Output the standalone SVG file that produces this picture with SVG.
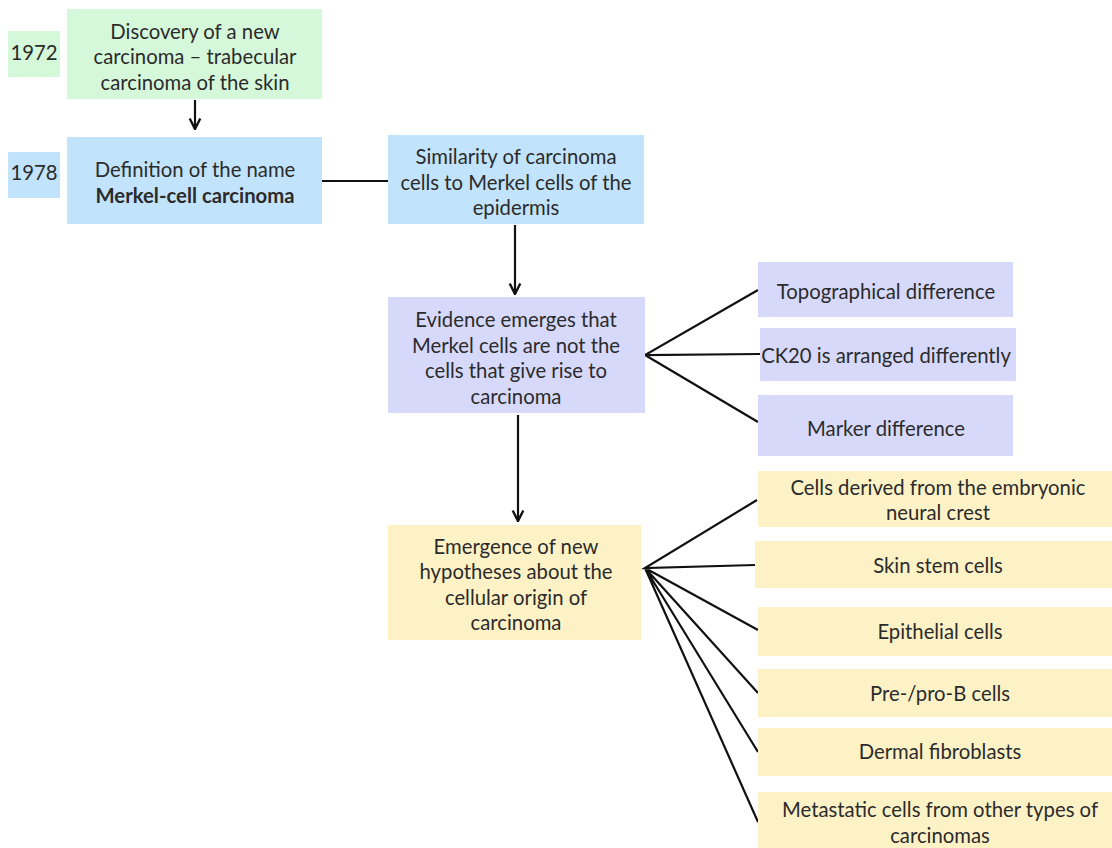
<svg xmlns="http://www.w3.org/2000/svg" width="1112" height="848" viewBox="0 0 1112 848">
<style>
text{font-family:Lato,"Open Sans",sans-serif;font-size:20.3px;fill:#2b2b2b;text-anchor:middle}
.g{fill:#d6f8da}.b{fill:#c1e3fb}.p{fill:#d7d9fb}.y{fill:#fdf2c6}
.c{stroke:#111;stroke-width:2.2;fill:none}
</style>
<defs>
<marker id="ah" viewBox="0 0 10 10" refX="9" refY="5" markerWidth="6" markerHeight="6" orient="auto"><path d="M1,1 L9,5 L1,9" fill="none" stroke="#111" stroke-width="1.8"/></marker>
</defs>
<rect width="1112" height="848" fill="#fff"/>
<g id="connectors">
<line class="c" x1="195" y1="100" x2="195" y2="129" marker-end="url(#ah)"/>
<line class="c" x1="322" y1="181" x2="388" y2="181"/>
<line class="c" x1="515" y1="225" x2="515" y2="294" marker-end="url(#ah)"/>
<line class="c" x1="518" y1="415" x2="518" y2="521" marker-end="url(#ah)"/>
<path class="c" d="M758,290 L645,355 L760,354 M645,355 L758,422"/>
<path class="c" d="M757,500 L645,568 L755,565 M645,568 L758,630 M645,568 L758,693 M645,568 L758,752 M645,568 L758,822"/>
</g>
<g id="y1972"><rect class="g" x="8" y="31" width="52" height="46"/><text x="34" y="60" font-size="15">1972</text></g>
<g id="discovery"><rect class="g" x="67" y="9" width="255" height="90"/><text x="195" y="39">Discovery of a new</text><text x="195" y="64">carcinoma – trabecular</text><text x="195" y="90">carcinoma of the skin</text></g>
<g id="y1978"><rect class="b" x="8" y="152" width="52" height="46"/><text x="34" y="180" font-size="15">1978</text></g>
<g id="definition"><rect class="b" x="67" y="137" width="255" height="87"/><text x="195" y="177">Definition of the name</text><text x="195" y="203" font-weight="bold">Merkel-cell carcinoma</text></g>
<g id="similarity"><rect class="b" x="388" y="135" width="256" height="89"/><text x="516" y="164">Similarity of carcinoma</text><text x="516" y="190">cells to Merkel cells of the</text><text x="516" y="215">epidermis</text></g>
<g id="evidence"><rect class="p" x="388" y="297" width="257" height="116"/><text x="516" y="327">Evidence emerges that</text><text x="516" y="353">Merkel cells are not the</text><text x="516" y="378">cells that give rise to</text><text x="516" y="404">carcinoma</text></g>
<g id="topo"><rect class="p" x="758" y="262" width="255" height="55"/><text x="886" y="299">Topographical difference</text></g>
<g id="ck20"><rect class="p" x="760" y="328" width="256" height="53"/><text x="886" y="363">CK20 is arranged differently</text></g>
<g id="marker"><rect class="p" x="758" y="395" width="255" height="61"/><text x="886" y="436">Marker difference</text></g>
<g id="emergence"><rect class="y" x="388" y="525" width="253" height="115"/><text x="516" y="554">Emergence of new</text><text x="516" y="579">hypotheses about the</text><text x="516" y="605">cellular origin of</text><text x="516" y="630">carcinoma</text></g>
<g id="neural"><rect class="y" x="758" y="471" width="354" height="56"/><text x="938" y="495">Cells derived from the embryonic</text><text x="938" y="520">neural crest</text></g>
<g id="skin"><rect class="y" x="755" y="541" width="357" height="47"/><text x="938" y="573">Skin stem cells</text></g>
<g id="epithelial"><rect class="y" x="758" y="607" width="354" height="49"/><text x="940" y="639">Epithelial cells</text></g>
<g id="preb"><rect class="y" x="758" y="669" width="354" height="48"/><text x="940" y="701">Pre-/pro-B cells</text></g>
<g id="dermal"><rect class="y" x="758" y="728" width="354" height="48"/><text x="940" y="759">Dermal fibroblasts</text></g>
<g id="metastatic"><rect class="y" x="758" y="792" width="354" height="56"/><text x="940" y="817">Metastatic cells from other types of</text><text x="940" y="843">carcinomas</text></g>
</svg>
